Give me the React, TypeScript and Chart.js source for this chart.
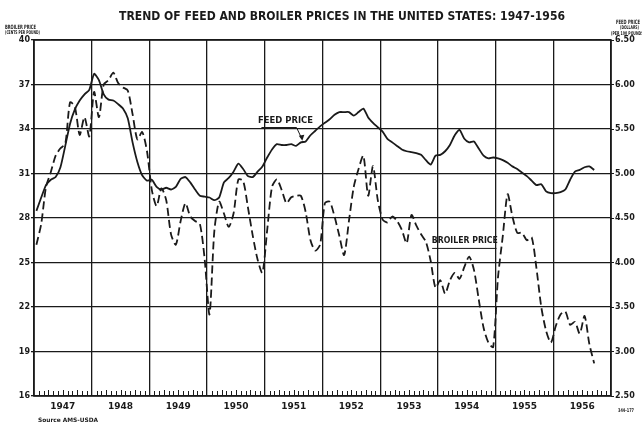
import React, { useEffect, useRef } from "react";
import { Chart, registerables } from "chart.js";

Chart.register(...registerables);

// Monthly values, Jan 1947 .. Sep 1956
const broilerCents: number[] = [
  26.2, 27.6, 30.1, 31.1, 32.2, 32.7, 33.0, 35.8, 35.5, 33.6, 34.8, 33.5,
  36.5, 34.8, 37.0, 37.3, 37.8, 37.1, 36.8, 36.6, 35.0, 33.3, 33.8, 32.5,
  29.9, 28.8, 30.0, 29.2, 26.9, 26.2, 27.8, 29.0, 28.1, 27.8, 27.6, 25.2,
  21.5, 27.1, 29.1, 28.3, 27.4, 28.3, 30.6, 30.5, 28.7, 26.8, 25.2, 24.3,
  27.2, 30.1, 30.6, 29.9, 29.0, 29.4, 29.5, 29.5, 28.4, 26.5, 25.8, 26.2,
  29.0, 29.1, 28.1, 26.8, 25.5, 27.8, 30.1, 31.3, 32.2, 29.5, 31.5, 29.2,
  27.9, 27.7, 28.1, 27.8, 27.2, 26.3, 28.2, 27.5, 26.9, 26.4, 25.1, 23.3,
  23.8, 22.9, 23.8, 24.3, 23.9, 24.7, 25.4, 24.5, 22.5, 20.6, 19.6, 19.3,
  24.0, 26.8, 29.6, 28.1, 27.0, 27.0, 26.5, 26.7, 24.6, 22.0, 20.4, 19.6,
  20.7, 21.5, 21.7, 20.8, 21.0, 20.2, 21.4, 19.5, 18.2,
];

const feedDollars: number[] = [
  4.58, 4.73, 4.87, 4.93, 4.96, 5.07, 5.31, 5.56, 5.72, 5.82, 5.89, 5.94,
  6.12, 6.05, 5.89, 5.83, 5.82, 5.78, 5.73, 5.62, 5.35, 5.13, 4.98, 4.92,
  4.93, 4.85, 4.82, 4.84, 4.82, 4.85, 4.94, 4.96, 4.90, 4.82, 4.75, 4.74,
  4.73, 4.70, 4.73, 4.90, 4.95, 5.02, 5.11, 5.05, 4.97, 4.96, 5.02, 5.08,
  5.18, 5.27, 5.33, 5.32, 5.32, 5.33, 5.31, 5.35, 5.36, 5.43, 5.48, 5.53,
  5.57, 5.61, 5.66, 5.69, 5.69, 5.69, 5.65, 5.69, 5.73, 5.63, 5.57, 5.52,
  5.47, 5.39, 5.35, 5.31, 5.27, 5.25, 5.24, 5.23, 5.21, 5.15, 5.10, 5.20,
  5.21, 5.25, 5.32, 5.43, 5.49, 5.39, 5.35, 5.36, 5.28, 5.20, 5.17, 5.18,
  5.17, 5.15, 5.12, 5.08, 5.05, 5.01, 4.97, 4.92, 4.87, 4.88, 4.80, 4.78,
  4.78, 4.79, 4.82, 4.93, 5.02, 5.04, 5.07, 5.08, 5.04,
];

const yearLabels: string[] = [
  "1947", "1948", "1949", "1950", "1951", "1952", "1953", "1954", "1955", "1956",
];
const broilerTicks: number[] = [16, 19, 22, 25, 28, 31, 34, 37, 40];
const feedTicks: number[] = [2.5, 3.0, 3.5, 4.0, 4.5, 5.0, 5.5, 6.0, 6.5];

const INK = "#1a1a1a";

function fitText(
  ctx: CanvasRenderingContext2D,
  text: string,
  x: number,
  y: number,
  font: string,
  width: number,
  align: "left" | "center" = "center"
) {
  ctx.save();
  ctx.font = font;
  const w = ctx.measureText(text).width;
  ctx.translate(x, y);
  ctx.scale(width / w, 1);
  ctx.textAlign = align;
  ctx.textBaseline = "middle";
  ctx.fillStyle = INK;
  ctx.fillText(text, 0, 0);
  ctx.restore();
}

const decorPlugin = {
  id: "decor",
  afterDraw(chart: any) {
    const ctx: CanvasRenderingContext2D = chart.ctx;
    const { left, right, top, bottom } = chart.chartArea;
    const xs = chart.scales.x;
    const ys = chart.scales.y;
    ctx.save();
    ctx.strokeStyle = INK;
    ctx.lineWidth = 1.6;
    ctx.strokeRect(left, top, right - left, bottom - top);
    ctx.lineWidth = 1;
    for (let m = 1; m < 120; m++) {
      if (m % 12 === 0) continue;
      const px = Math.round(xs.getPixelForValue(m)) + 0.5;
      ctx.beginPath();
      ctx.moveTo(px, bottom);
      ctx.lineTo(px, bottom - (m % 3 === 0 ? 6 : 5));
      ctx.stroke();
    }
    ctx.restore();

    fitText(ctx, "TREND OF FEED AND BROILER PRICES IN THE UNITED STATES: 1947-1956",
      342, 17, "bold 12px 'DejaVu Sans'", 446);
    fitText(ctx, "BROILER PRICE", 5, 27, "bold 6px 'DejaVu Sans'", 31, "left");
    fitText(ctx, "(CENTS PER POUND)", 5, 33, "bold 5px 'DejaVu Sans'", 35, "left");
    fitText(ctx, "FEED PRICE", 616, 22, "bold 6px 'DejaVu Sans'", 24, "left");
    fitText(ctx, "(DOLLARS)", 620, 28, "bold 5px 'DejaVu Sans'", 19, "left");
    fitText(ctx, "(PER 100 POUNDS)", 611, 34, "bold 5px 'DejaVu Sans'", 34, "left");
    fitText(ctx, "Source AMS-USDA", 38, 420, "bold 6px 'DejaVu Sans'", 60, "left");
    fitText(ctx, "344-177", 618, 411, "bold 5px 'DejaVu Sans'", 16, "left");

    // FEED PRICE annotation
    const fx = xs.getPixelForValue(52.3);
    const fy = ys.getPixelForValue(34.55);
    fitText(ctx, "FEED PRICE", fx, fy, "bold 9px 'DejaVu Sans'", 55);
    ctx.save();
    ctx.strokeStyle = INK;
    ctx.fillStyle = INK;
    ctx.lineWidth = 1;
    const lx0 = xs.getPixelForValue(47.3);
    const lx1 = xs.getPixelForValue(54.6);
    const ly = ys.getPixelForValue(34.1);
    const ax = xs.getPixelForValue(55.7);
    const ay = ys.getPixelForValue(33.35);
    ctx.beginPath();
    ctx.moveTo(lx0, ly);
    ctx.lineTo(lx1, ly);
    ctx.lineTo(ax, ay);
    ctx.stroke();
    ctx.beginPath();
    ctx.moveTo(ax + 0.5, ay + 2);
    ctx.lineTo(ax - 3, ay - 3);
    ctx.lineTo(ax + 2.5, ay - 4);
    ctx.closePath();
    ctx.fill();
    ctx.restore();

    // BROILER PRICE annotation
    const bx = xs.getPixelForValue(89.6);
    const by = ys.getPixelForValue(26.45);
    fitText(ctx, "BROILER PRICE", bx, by, "bold 9px 'DejaVu Sans'", 66);
    ctx.save();
    ctx.strokeStyle = INK;
    ctx.lineWidth = 1;
    const uy = ys.getPixelForValue(25.95);
    ctx.beginPath();
    ctx.moveTo(xs.getPixelForValue(82.8), uy);
    ctx.lineTo(xs.getPixelForValue(96.2), uy);
    ctx.stroke();
    ctx.restore();
  },
};

const whiteBg = {
  id: "whiteBg",
  beforeDraw(chart: any) {
    const ctx = chart.ctx;
    ctx.save();
    ctx.fillStyle = "#ffffff";
    ctx.fillRect(0, 0, chart.width, chart.height);
    ctx.restore();
  },
};

export default function App() {
  const ref = useRef<HTMLCanvasElement | null>(null);

  useEffect(() => {
    if (!ref.current) return;
    const broilerPts = broilerCents.map((v, i) => ({ x: i + 0.5, y: v }));
    const feedPts = feedDollars.map((v, i) => ({ x: i + 0.5, y: v }));
    const tickFont = { family: "'DejaVu Sans'", size: 8, weight: "bold" as const };

    const chart = new Chart(ref.current, {
      type: "line",
      data: {
        datasets: [
          {
            label: "Broiler price",
            data: broilerPts,
            yAxisID: "y",
            borderColor: INK,
            borderWidth: 1.8,
            borderDash: [8, 4],
            pointRadius: 0,
            tension: 0.25,
            fill: false,
          },
          {
            label: "Feed price",
            data: feedPts,
            yAxisID: "y1",
            borderColor: INK,
            borderWidth: 1.8,
            pointRadius: 0,
            tension: 0.2,
            fill: false,
          },
        ],
      },
      options: {
        animation: false,
        responsive: false,
        devicePixelRatio: 1,
        layout: { padding: { top: 40, left: 0, right: 0, bottom: 0 } },
        plugins: {
          legend: { display: false },
          title: { display: false },
          tooltip: { enabled: false },
        },
        scales: {
          x: {
            type: "linear",
            min: 0,
            max: 120,
            afterBuildTicks: (scale: any) => {
              scale.ticks = Array.from({ length: 21 }, (_, i) => ({ value: i * 6 }));
            },
            afterFit: (scale: any) => {
              scale.height = 29;
            },
            grid: {
              color: (c: any) =>
                c.tick && Math.round(c.tick.value) % 12 === 0 ? INK : "rgba(0,0,0,0)",
              lineWidth: 1.3,
              drawTicks: false,
            },
            border: { display: false },
            ticks: {
              autoSkip: false,
              maxRotation: 0,
              padding: 5,
              color: INK,
              font: { family: "'DejaVu Sans'", size: 9, weight: "bold" },
              callback: (v: any) => {
                const n = Math.round(Number(v));
                return n % 12 === 6 ? yearLabels[(n - 6) / 12] : "";
              },
            },
          },
          y: {
            position: "left",
            min: 16,
            max: 40,
            afterBuildTicks: (scale: any) => {
              scale.ticks = broilerTicks.map((v) => ({ value: v }));
            },
            afterFit: (scale: any) => {
              scale.width = 34;
            },
            grid: { color: INK, lineWidth: 1.3, tickLength: 3 },
            border: { display: false },
            ticks: { color: INK, font: tickFont, padding: 1 },
          },
          y1: {
            position: "right",
            min: 2.5,
            max: 6.5,
            afterBuildTicks: (scale: any) => {
              scale.ticks = feedTicks.map((v) => ({ value: v }));
            },
            afterFit: (scale: any) => {
              scale.width = 31;
            },
            grid: { drawOnChartArea: false, color: INK, tickLength: 3 },
            border: { display: false },
            ticks: {
              color: INK,
              font: tickFont,
              padding: 1,
              callback: (v: any) => Number(v).toFixed(2),
            },
          },
        },
      },
      plugins: [whiteBg, decorPlugin],
    });
    return () => chart.destroy();
  }, []);

  return (
    <div style={{ position: "fixed", left: 0, top: 0, width: 642, height: 425, background: "#fff" }}>
      <canvas ref={ref} width={642} height={425} style={{ width: 642, height: 425, display: "block" }} />
    </div>
  );
}
